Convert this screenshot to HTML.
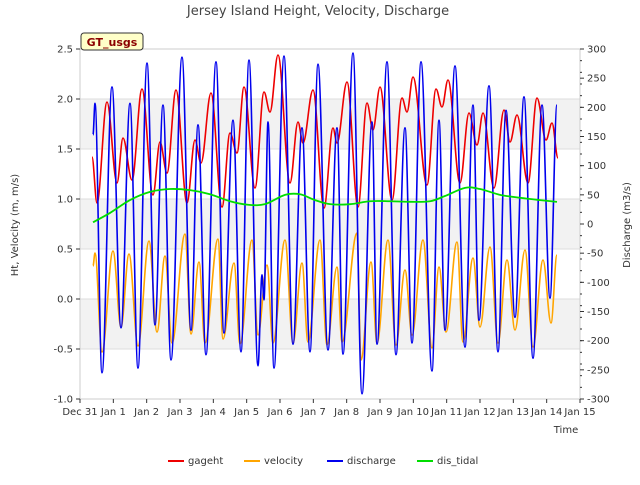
<!DOCTYPE html>
<html><head><meta charset="utf-8"><style>
body{margin:0;background:#fff;font-family:"Liberation Sans","DejaVu Sans",sans-serif}
svg text{font-family:"DejaVu Sans","Liberation Sans",sans-serif}
</style></head><body>
<svg id="chart" width="640" height="480"></svg>
<script>
const gagehtDays=[0.36,0.51,0.81,1.11,1.29,1.56,1.86,2.19,2.40,2.61,2.88,3.21,3.45,3.63,3.93,4.26,4.50,4.71,4.92,5.25,5.52,5.70,5.94,6.30,6.54,6.69,6.99,7.32,7.59,7.71,8.01,8.34,8.61,8.79,9.00,9.36,9.66,9.81,9.99,10.41,10.68,10.86,11.04,11.40,11.67,11.91,12.09,12.42,12.72,12.90,13.11,13.44,13.71,13.98,14.16,14.34];
const gagehtVals=[1.42,0.96,1.97,1.16,1.61,1.19,2.10,1.04,1.57,1.26,2.09,0.96,1.59,1.36,2.06,0.92,1.66,1.46,2.12,1.11,2.07,1.87,2.44,1.16,1.77,1.56,2.09,0.91,1.71,1.56,2.17,0.92,1.96,1.69,2.12,0.99,2.01,1.87,2.22,1.14,2.10,1.92,2.19,1.16,1.86,1.54,1.86,1.11,1.89,1.57,1.84,1.16,2.01,1.59,1.76,1.41];
const velDays=[0.39,0.45,0.66,0.99,1.23,1.47,1.74,2.07,2.31,2.55,2.76,3.15,3.33,3.57,3.75,4.14,4.29,4.62,4.80,5.16,5.34,5.61,5.79,6.15,6.39,6.66,6.84,7.20,7.41,7.71,7.86,8.31,8.43,8.73,8.91,9.24,9.48,9.75,9.96,10.29,10.56,10.77,10.98,11.31,11.49,11.79,12.00,12.30,12.54,12.81,13.05,13.35,13.59,13.89,14.13,14.31];
const velVals=[0.33,0.46,-0.53,0.48,-0.28,0.45,-0.47,0.58,-0.33,0.43,-0.44,0.65,-0.35,0.37,-0.44,0.60,-0.40,0.36,-0.45,0.59,-0.36,0.34,-0.44,0.59,-0.44,0.36,-0.43,0.59,-0.46,0.32,-0.43,0.66,-0.61,0.37,-0.44,0.59,-0.46,0.29,-0.36,0.59,-0.49,0.32,-0.33,0.57,-0.43,0.41,-0.28,0.52,-0.44,0.39,-0.31,0.49,-0.48,0.39,-0.24,0.44];
const disDays=[0.39,0.45,0.66,0.96,1.23,1.50,1.74,2.01,2.25,2.49,2.73,3.06,3.33,3.54,3.78,4.08,4.32,4.59,4.83,5.07,5.34,5.46,5.52,5.64,5.82,6.12,6.39,6.66,6.90,7.14,7.44,7.71,7.89,8.19,8.46,8.76,8.91,9.21,9.48,9.75,9.96,10.23,10.56,10.77,10.95,11.25,11.55,11.79,11.97,12.27,12.54,12.78,13.05,13.32,13.59,13.86,14.10,14.31];
const disVals=[153,207,-255,235,-178,207,-247,276,-173,204,-233,286,-182,170,-224,278,-187,178,-219,281,-243,-87,-130,175,-247,288,-206,165,-219,274,-216,165,-223,293,-291,175,-206,278,-224,165,-204,278,-252,178,-182,271,-211,204,-165,237,-219,195,-160,218,-230,204,-127,204];
const tidalDays=[0.39,0.9,1.5,2.1,2.7,3.3,3.9,4.5,5.04,5.55,6.15,6.6,7.05,7.5,8.1,8.7,9.3,9.9,10.5,10.95,11.55,12.0,12.6,13.2,13.8,14.31];
const tidalVals=[3,19,41,55,60,58,51,39,33,34,50,51,41,34,34,39,39,38,39,48,62,60,50,45,41,38];
const xTickLabels=["Dec 31","Jan 1","Jan 2","Jan 3","Jan 4","Jan 5","Jan 6","Jan 7","Jan 8","Jan 9","Jan 10","Jan 11","Jan 12","Jan 13","Jan 14","Jan 15"];
const yLeftTicks=[-1.0,-0.5,0.0,0.5,1.0,1.5,2.0,2.5];
const yRightTicks=[-300,-250,-200,-150,-100,-50,0,50,100,150,200,250,300];

const L=80,R=580,T=49,B=399;
const X=d=>L+d*(R-L)/15;
const YL=v=>B-(v+1)*(B-T)/3.5;
const YR=q=>B-(q+300)*(B-T)/600;
const svg=document.getElementById('chart');
const NS='http://www.w3.org/2000/svg';
function mk(tag,attrs,parent){const e=document.createElementNS(NS,tag);for(const k in attrs)e.setAttribute(k,attrs[k]);(parent||svg).appendChild(e);return e;}

// background bands
[[1.5,2.0],[0.5,1.0],[-0.5,0.0]].forEach((b,i)=>{
 const r=mk('rect',{x:L,y:YL(b[1]),width:R-L,height:YL(b[0])-YL(b[1]),fill:'#f2f2f2'});
 
 
});
yLeftTicks.forEach(v=>{
 const g=mk('line',{x1:L,x2:R,y1:YL(v),y2:YL(v),stroke:'#dddddd','stroke-width':1});
 
 
});
const frame=mk('rect',{x:L,y:T,width:R-L,height:B-T,fill:'none',stroke:'#cccccc'});



function txt(s,x,y,attrs,name){const t=mk('text',Object.assign({x:x,y:y,'font-size':10,fill:'#333'},attrs||{}));t.textContent=s;
 
 
 return t;}

yLeftTicks.forEach(v=>{mk('line',{x1:L-4,x2:L,y1:YL(v),y2:YL(v),stroke:'#333'});txt(v.toFixed(1),L-7,YL(v)+3.5,{'text-anchor':'end'},'y-left-tick-label');});
yRightTicks.forEach(q=>{mk('line',{x1:R,x2:R+4,y1:YR(q),y2:YR(q),stroke:'#333'});txt(String(q),R+7,YR(q)+3.5,{'text-anchor':'start'},'y-right-tick-label');});
for(let q=-300;q<=300;q+=20){mk('line',{x1:R,x2:R+2,y1:YR(q),y2:YR(q),stroke:'#333'});}
xTickLabels.forEach((s,i)=>{mk('line',{x1:X(i),x2:X(i),y1:B,y2:B+4,stroke:'#333'});txt(s,X(i),B+16,{'text-anchor':'middle'},'x-tick-label');});

function curvePath(ds,vs,yf){
 let p='M'+X(ds[0]).toFixed(1)+','+yf(vs[0]).toFixed(1);
 for(let i=1;i<ds.length;i++){
  const x0=X(ds[i-1]),y0=yf(vs[i-1]),x1=X(ds[i]),y1=yf(vs[i]),dx=x1-x0;
  p+=' C'+(x0+dx*0.36).toFixed(1)+','+y0.toFixed(1)+' '+(x1-dx*0.36).toFixed(1)+','+y1.toFixed(1)+' '+x1.toFixed(1)+','+y1.toFixed(1);
 }
 return p;
}
function smoothPath(ds,vs,yf){
 const pts=ds.map((d,i)=>[X(d),yf(vs[i])]);
 let p='M'+pts[0][0]+','+pts[0][1];
 for(let i=0;i<pts.length-1;i++){
  const p0=pts[Math.max(0,i-1)],p1=pts[i],p2=pts[i+1],p3=pts[Math.min(pts.length-1,i+2)];
  p+=' C'+(p1[0]+(p2[0]-p0[0])/6)+','+(p1[1]+(p2[1]-p0[1])/6)+' '+(p2[0]-(p3[0]-p1[0])/6)+','+(p2[1]-(p3[1]-p1[1])/6)+' '+p2[0]+','+p2[1];
 }
 return p;
}
const s1=mk('path',{d:curvePath(gagehtDays,gagehtVals,YL),fill:'none',stroke:'#ee0000','stroke-width':1.6});


const s2=mk('path',{d:curvePath(velDays,velVals,YL),fill:'none',stroke:'#ffa500','stroke-width':1.6});


const s3=mk('path',{d:curvePath(disDays,disVals,YR),fill:'none',stroke:'#0000ee','stroke-width':1.6});


const s4=mk('path',{d:smoothPath(tidalDays,tidalVals,YR),fill:'none',stroke:'#00dd00','stroke-width':1.8});



txt('Jersey Island Height, Velocity, Discharge',318,15,{'text-anchor':'middle','font-size':13,fill:'#444'},'chart-title');
txt('Ht, Velocity (m, m/s)',18,225,{'text-anchor':'middle',transform:'rotate(-90 18 225)'},'y-left-axis-title');
txt('Discharge (m3/s)',630,225,{'text-anchor':'middle',transform:'rotate(-90 630 225)'},'y-right-axis-title');
txt('Time',566,433,{'text-anchor':'middle'},'x-axis-title');

const badge=mk('rect',{x:81,y:33,width:62,height:17,rx:3,fill:'#ffffc8',stroke:'#333'});


txt('GT_usgs',112,46,{'text-anchor':'middle','font-size':11,'font-weight':'bold',fill:'#8b0000'},'gt-usgs-label');

[['gageht','#ee0000',168],['velocity','#ffa500',244],['discharge','#0000ee',327],['dis_tidal','#00dd00',417]].forEach(l=>{
 const ln=mk('line',{x1:l[2],x2:l[2]+16,y1:461,y2:461,stroke:l[1],'stroke-width':2});
 
 
 txt(l[0],l[2]+20,464,{'text-anchor':'start'},'legend-entry');
});
</script>
</body></html>
